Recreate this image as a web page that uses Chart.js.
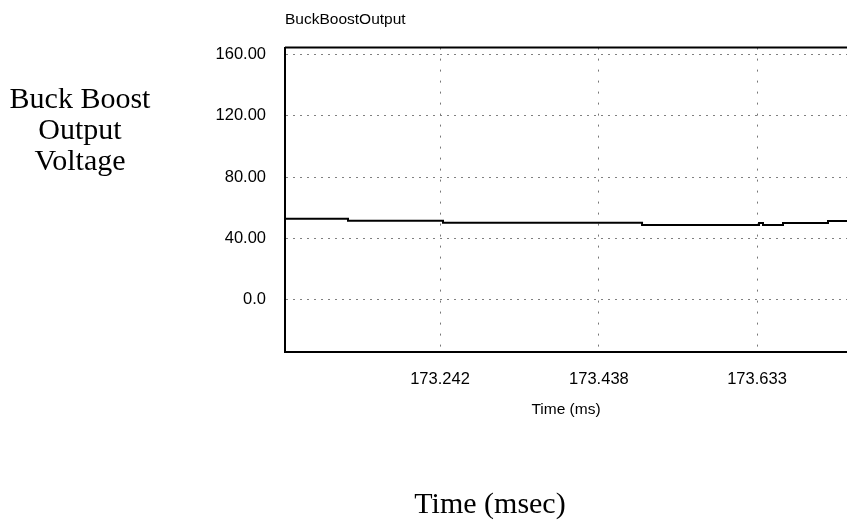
<!DOCTYPE html>
<html>
<head>
<meta charset="utf-8">
<title>BuckBoostOutput</title>
<script src="https://cdn.jsdelivr.net/npm/chart.js@4.4.1/dist/chart.umd.min.js"></script>
<style>
  body { margin: 0; background: #fff; }
  #wrap { position: relative; width: 847px; height: 522px; }
  #wrap canvas { position: absolute; left: 0; top: 0; }
  .serif { position: absolute; font-family: "Liberation Serif", "Times New Roman", serif; color: #000; text-align: center; }
  #ylab { left: 0; top: 82px; width: 160px; font-size: 30px; line-height: 31px; }
  #xlab { left: 380px; top: 487px; width: 220px; font-size: 30px; line-height: 31px; }
</style>
</head>
<body>
<div id="wrap">
  <canvas id="bbChart" width="847" height="522"></canvas>
  <div class="serif" id="ylab">Buck Boost<br>Output<br>Voltage</div>
  <div class="serif" id="xlab">Time (msec)</div>
</div>
<script>
// values
var timeMs = [173.0508, 173.1285, 173.2457, 173.4912, 173.6355, 173.6404, 173.6651, 173.7206, 173.744];
var voltage = [52.9, 51.6, 50.3, 48.8, 50.1, 48.8, 50.1, 51.4, 51.4];

var xTicks = [173.242, 173.438, 173.633];
var xTickLabels = ["173.242", "173.438", "173.633"];
var yTicks = [0, 40, 80, 120, 160];
var yTickLabels = ["0.0", "40.00", "80.00", "120.00", "160.00"];

var sans = '"Liberation Sans", Arial, sans-serif';

var points = timeMs.map(function (t, i) {
    return { x: t, y: voltage[i] };
});

// solid line along the top of the plot
var topBorder = {
    id: 'topBorder',
    afterDraw: function (chart) {
        var ctx = chart.ctx;
        var a = chart.chartArea;
        ctx.save();
        ctx.strokeStyle = '#000';
        ctx.lineWidth = 2;
        ctx.beginPath();
        ctx.moveTo(a.left, a.top);
        ctx.lineTo(a.right, a.top);
        ctx.stroke();
        ctx.restore();
    }
};

var ctx = document.getElementById('bbChart').getContext('2d');
var chart = new Chart(ctx, {
    type: 'line',
    data: {
        datasets: [{
            label: 'BuckBoostOutput',
            data: points,
            borderColor: '#000',
            borderWidth: 2,
            pointRadius: 0,
            stepped: true,
            fill: false
        }]
    },
    options: {
        responsive: false,
        animation: false,
        layout: { padding: 0 },
        plugins: {
            legend: { display: false },
            tooltip: { enabled: false },
            title: {
                display: true,
                text: 'BuckBoostOutput',
                align: 'start',
                fullSize: false,
                color: '#000',
                font: { family: sans, size: 15.5, weight: 'normal' },
                padding: { top: 10, bottom: 19 }
            }
        },
        scales: {
            x: {
                type: 'linear',
                min: 173.0508,
                max: 173.744,
                afterBuildTicks: function (axis) {
                    axis.ticks = xTicks.map(function (v) { return { value: v }; });
                },
                afterFit: function (axis) { axis.height = 170; },
                ticks: {
                    color: '#000',
                    padding: 18,
                    maxRotation: 0,
                    font: { family: sans, size: 16.5 },
                    callback: function (v) { return xTickLabels[xTicks.indexOf(v)]; }
                },
                grid: { color: '#777', lineWidth: 1, drawTicks: false },
                border: { display: true, color: '#000', width: 2, dash: [2, 9] },
                title: {
                    display: true,
                    text: 'Time (ms)',
                    color: '#000',
                    font: { family: sans, size: 15.5 },
                    padding: { top: 0, bottom: 103 }
                }
            },
            y: {
                min: -34,
                max: 164.4,
                afterBuildTicks: function (axis) {
                    axis.ticks = yTicks.map(function (v) { return { value: v }; });
                },
                afterFit: function (axis) { axis.width = 285; },
                ticks: {
                    color: '#000',
                    padding: 19,
                    font: { family: sans, size: 16.5 },
                    callback: function (v) { return yTickLabels[yTicks.indexOf(v)]; }
                },
                grid: { color: '#808080', lineWidth: 1, drawTicks: false },
                border: { display: true, color: '#000', width: 2, dash: [2, 5] }
            }
        }
    },
    plugins: [topBorder]
});
</script>
</body>
</html>
